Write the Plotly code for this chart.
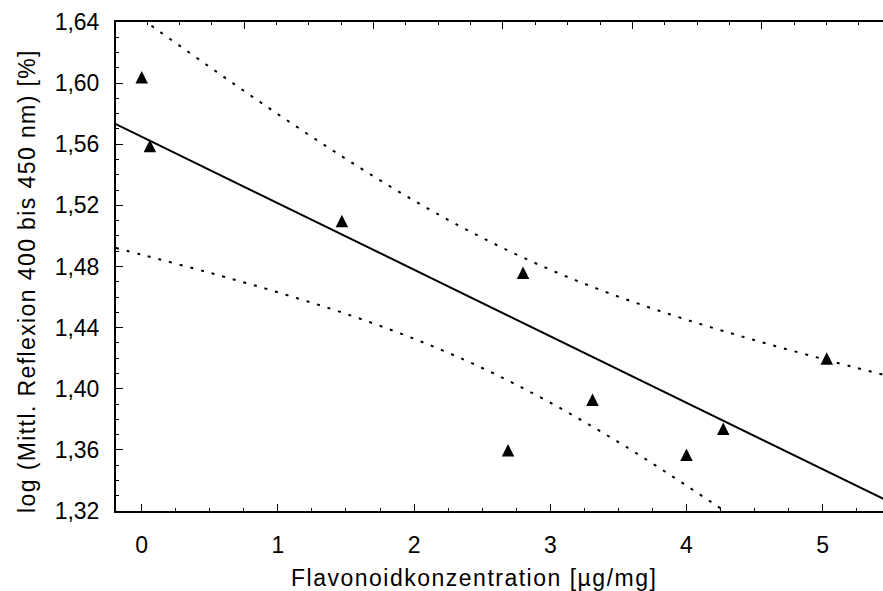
import plotly.graph_objects as go

# ---- data ----
conc = [0.00, 0.06, 1.47, 2.69, 2.80, 3.31, 4.00, 4.27, 5.03]
log_refl = [1.604, 1.559, 1.510, 1.360, 1.476, 1.393, 1.357, 1.374, 1.420]

fit_x = [-0.19, 5.45]
fit_y = [1.5732, 1.3278]

band_x = [-0.19, 0.0, 0.5, 1.0, 1.5, 2.0, 2.5, 3.0, 3.5, 4.0, 4.5, 5.0, 5.45]
band_upper = [1.6543, 1.6421, 1.6105, 1.5797, 1.5504, 1.5231, 1.4988, 1.4779,
              1.4603, 1.4452, 1.4318, 1.4195, 1.4091]
band_lower = [1.4921, 1.4877, 1.4759, 1.4631, 1.4490, 1.4327, 1.4136, 1.3909,
              1.3651, 1.3366, 1.3066, 1.2753, 1.2465]

y_tick_vals = [1.32, 1.36, 1.40, 1.44, 1.48, 1.52, 1.56, 1.60, 1.64]
y_tick_text = ["1,32", "1,36", "1,40", "1,44", "1,48", "1,52", "1,56", "1,60", "1,64"]
x_tick_vals = [0, 1, 2, 3, 4, 5]
x_tick_text = ["0", "1", "2", "3", "4", "5"]

x_title = "Flavonoidkonzentration [µg/mg]"
y_title = "log (Mittl. Reflexion 400 bis 450 nm) [%]"

FONT = "Liberation Sans, Arial, Helvetica, sans-serif"


def spaced(t, px):
    return '<span style="letter-spacing:%spx">%s</span>' % (px, t)


fig = go.Figure()

dot_style = dict(color="black", width=2, dash="3px,8px", shape="spline")
fig.add_trace(go.Scatter(x=band_x, y=band_upper, mode="lines", line=dot_style,
                         hoverinfo="skip", showlegend=False))
fig.add_trace(go.Scatter(x=band_x, y=band_lower, mode="lines", line=dot_style,
                         hoverinfo="skip", showlegend=False))
fig.add_trace(go.Scatter(x=fit_x, y=fit_y, mode="lines",
                         line=dict(color="black", width=2),
                         hoverinfo="skip", showlegend=False))
fig.add_trace(go.Scatter(x=conc, y=log_refl, mode="markers",
                         marker=dict(symbol="arrow-down", angle=180, standoff=6,
                                     size=12.5, color="black",
                                     line=dict(width=0)),
                         showlegend=False))
# invisible trace for the top axis
fig.add_trace(go.Scatter(x=[], y=[], xaxis="x2", yaxis="y", showlegend=False))

fig.update_layout(
    width=883, height=591,
    margin=dict(l=116, r=0, t=22, b=80, pad=0),
    paper_bgcolor="white", plot_bgcolor="white",
    font=dict(family=FONT, color="black", size=23),
    xaxis=dict(
        range=[-0.1887, 5.443], showgrid=False, zeroline=False,
        showline=True, linecolor="black", linewidth=2,
        tickmode="array", tickvals=x_tick_vals, ticktext=x_tick_text,
        ticks="inside", ticklen=7, tickwidth=1.2, tickcolor="black",
        ticklabelstandoff=12,
        tickfont=dict(family=FONT, size=23, color="black"),
        minor=dict(dtick=0.25, tick0=0, ticks="inside", ticklen=3,
                   tickwidth=1.2, tickcolor="black", showgrid=False),
    ),
    xaxis2=dict(
        overlaying="x", side="top", anchor="y",
        range=[0.008, 5.938], showgrid=False, zeroline=False,
        showline=True, linecolor="black", linewidth=2,
        showticklabels=False, dtick=1, tick0=0,
        ticks="inside", ticklen=7, tickwidth=1.2, tickcolor="black",
        minor=dict(dtick=0.25, tick0=0, ticks="inside", ticklen=3,
                   tickwidth=1.2, tickcolor="black", showgrid=False),
    ),
    yaxis=dict(
        range=[1.32, 1.64], showgrid=False, zeroline=False,
        showline=True, linecolor="black", linewidth=2,
        tickmode="array", tickvals=y_tick_vals, ticktext=y_tick_text,
        ticks="inside", ticklen=7, tickwidth=1.2, tickcolor="black",
        ticklabelstandoff=10,
        tickfont=dict(family=FONT, size=23, color="black"),
        minor=dict(dtick=0.01, tick0=1.32, ticks="inside", ticklen=3,
                   tickwidth=1.2, tickcolor="black", showgrid=False),
    ),
    annotations=[
        dict(text=spaced(x_title, 1.5), xref="paper", yref="paper",
             x=(474 - 116) / 767, y=(511 - 578) / 489,
             xanchor="center", yanchor="middle", showarrow=False,
             font=dict(family=FONT, size=23, color="black")),
        dict(text=spaced(y_title, 1.4), xref="paper", yref="paper",
             x=(27 - 116) / 767, y=(511 - 281) / 489, textangle=-90,
             xanchor="center", yanchor="middle", showarrow=False,
             font=dict(family=FONT, size=23, color="black")),
    ],
)

fig.write_html("out.html")
